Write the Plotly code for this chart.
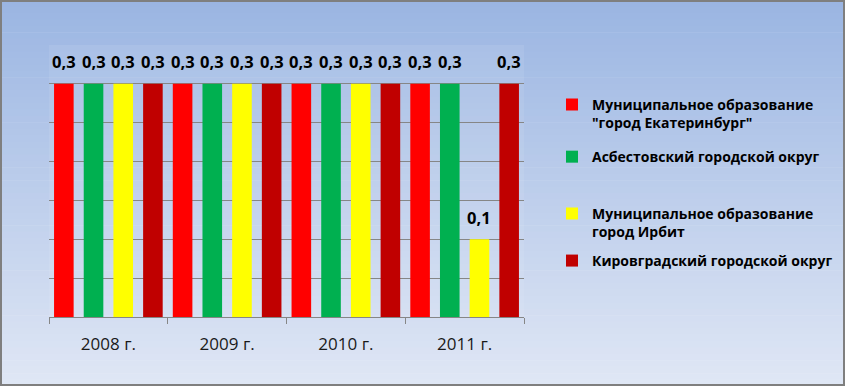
import plotly.graph_objects as go

categories = ["2008 г.", "2009 г.", "2010 г.", "2011 г."]
series_names = [
    "Муниципальное образование<br>\"город Екатеринбург\"",
    "Асбестовский городской округ",
    "Муниципальное образование<br>город Ирбит",
    "Кировградский городской округ",
]
ekb = [0.3, 0.3, 0.3, 0.3]
asbest = [0.3, 0.3, 0.3, 0.3]
irbit = [0.3, 0.3, 0.3, 0.1]
kirovgrad = [0.3, 0.3, 0.3, 0.3]
series_values = [ekb, asbest, irbit, kirovgrad]
colors = ["#ff0000", "#00b050", "#ffff00", "#c00000"]
legend_y = [0.747, 0.588, 0.346, 0.206]

FONT = "Open Sans"
W, H = 845, 386
ML, MR, MT, MB = 49, 321, 45, 69
PW, PH = W - ML - MR, H - MT - MB

fig = go.Figure()
for j, (name, vals, col) in enumerate(zip(series_names, series_values, colors)):
    lg = "legend" if j == 0 else f"legend{j+1}"
    fig.add_trace(go.Bar(x=categories, y=vals, name=name, marker_color=col,
                         marker_line_width=0, legend=lg))

# data labels
annotations = []
n = len(series_values)
for j, vals in enumerate(series_values):
    for i, v in enumerate(vals):
        annotations.append(dict(
            x=i + (j - (n - 1) / 2) / n, y=v, xref="x", yref="y",
            text=f"{v:.1f}".replace(".", ","), showarrow=False,
            yanchor="middle", yshift=22,
            font=dict(family=FONT, size=16.5, color="#000000", weight="bold")))

# background gradient
def px2x(px):
    return (px - ML) / PW

def py2y(py):
    return (H - MB - py) / PH

top = (154, 181, 226)
bot = (224, 231, 245)
shapes = []
N = 60
for k in range(N):
    t = (k + 0.5) / N
    c = tuple(round(top[m] + (bot[m] - top[m]) * t) for m in range(3))
    y0 = H * k / N
    y1 = H * (k + 1) / N + 0.6
    shapes.append(dict(type="rect", xref="paper", yref="paper", layer="below",
                       x0=px2x(0), x1=px2x(W), y0=py2y(y1), y1=py2y(y0),
                       fillcolor=f"rgb{c}", line_width=0))
shapes.append(dict(type="rect", xref="paper", yref="paper", layer="below",
                   x0=0, x1=1, y0=0, y1=1, fillcolor="rgba(255,255,255,0.08)",
                   line_width=0))
shapes.append(dict(type="rect", xref="paper", yref="paper", layer="above",
                   x0=px2x(0), x1=px2x(W), y0=py2y(H), y1=py2y(0),
                   fillcolor="rgba(0,0,0,0)", line=dict(color="#7f7f7f", width=4)))

legend_common = dict(x=px2x(552), xanchor="left", yanchor="middle",
                     bgcolor="rgba(0,0,0,0)", valign="top",
                     font=dict(family=FONT, size=14, color="#000000", weight="bold"))
layout_legends = {}
for j, yy in enumerate(legend_y):
    key = "legend" if j == 0 else f"legend{j+1}"
    layout_legends[key] = dict(legend_common, y=yy)

fig.update_layout(
    width=W, height=H,
    margin=dict(l=ML, r=MR, t=MT, b=MB, pad=0, autoexpand=False),
    paper_bgcolor="rgba(0,0,0,0)",
    plot_bgcolor="rgba(0,0,0,0)",
    barmode="group", bargap=0, bargroupgap=0.34,
    showlegend=True,
    annotations=annotations,
    shapes=shapes,
    xaxis=dict(showgrid=False, showline=True, linecolor="#868686", linewidth=1,
               ticks="outside", tickson="boundaries", ticklen=6, tickcolor="#868686",
               tickfont=dict(family=FONT, size=17, color="#1a1a1a"), ticklabelstandoff=12),
    yaxis=dict(range=[0, 0.35], dtick=0.05, showgrid=True, gridcolor="#868686",
               gridwidth=1, showticklabels=False, zeroline=False, showline=False,
               ticks=""),
    **layout_legends,
)
fig.write_html("out.html", config={"displayModeBar": False},
               post_script="document.body.style.margin='0';document.body.style.padding='0';")
